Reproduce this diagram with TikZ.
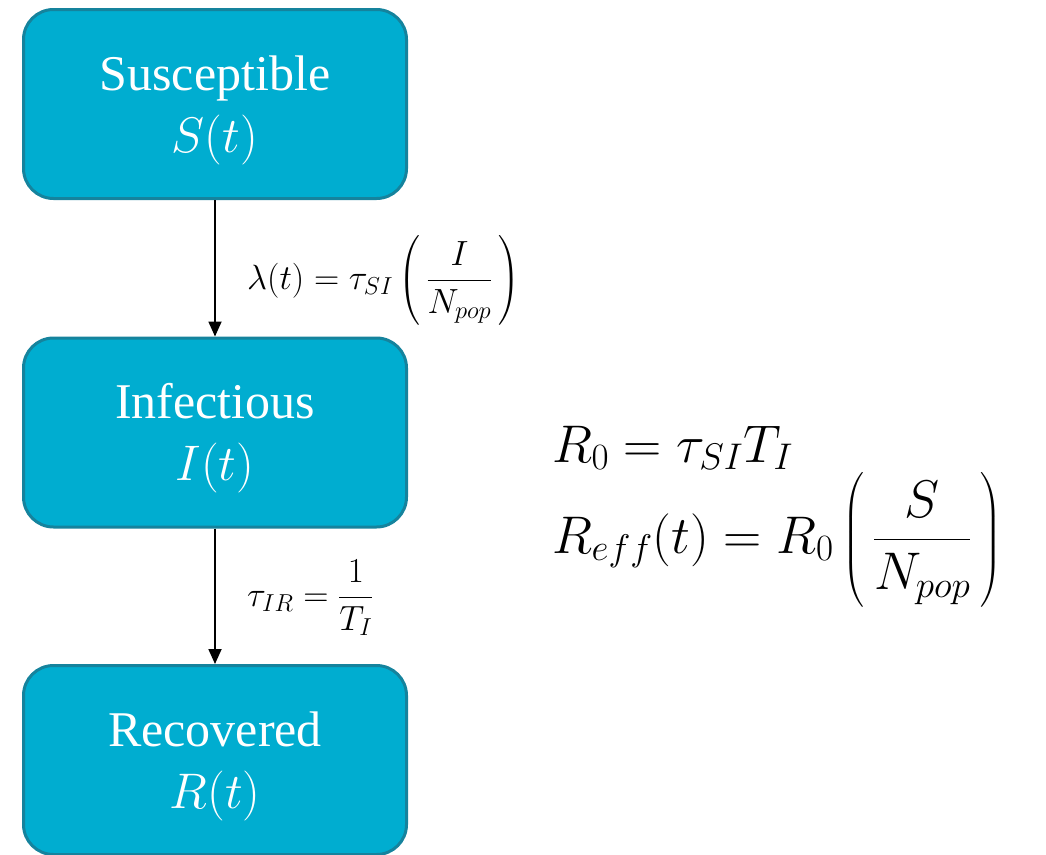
\documentclass[tikz,border=0pt]{standalone}
\usepackage{fix-cm}
\usepackage{amsmath}
\usepackage[no-math]{fontspec}
\setmainfont{Liberation Serif}
\usetikzlibrary{arrows.meta}
\definecolor{boxfill}{HTML}{00ADD0}
\definecolor{boxline}{HTML}{15839D}
\begin{document}
\begin{tikzpicture}[x=1pt,y=-1pt,
  compartment/.style={draw=boxline, line width=3pt, fill=boxfill, rounded corners=30pt,
    minimum width=383pt, minimum height=189pt, inner sep=0pt},
  boxtext/.style={text=white, align=center, font=\fontsize{50}{62}\selectfont, inner sep=0pt},
  flow/.style={line width=1.8pt, -{Triangle[width=13pt,length=15pt]}},
  rate/.style={anchor=base west, font=\fontsize{35}{40}\selectfont, inner sep=0pt},
  eq/.style={anchor=base west, font=\fontsize{53}{60}\selectfont, inner sep=0pt}]
\useasboundingbox (0,0) rectangle (1046,854);
\node[compartment] (S) at (215,104) {};
\node[compartment] (I) at (215,432.5) {};
\node[compartment] (R) at (215,760) {};
\node[boxtext] (St) at ([yshift=-6pt]S.center) {Susceptible\\$S(t)$};
\node[boxtext] (It) at ([yshift=-6pt]I.center) {Infectious\\$I(t)$};
\node[boxtext] (Rt) at ([yshift=-6pt]R.center) {Recovered\\$R(t)$};
\draw[flow] (S) -- (I);
\draw[flow] (I) -- (R);
\node[rate] (lam) at (247,289) {$\lambda(t) = \tau_{SI}\left(\,\dfrac{I}{N_{pop}}\,\right)$};
\node[rate] (tir) at (247,606) {$\tau_{IR} = \dfrac{1}{T_I}$};
\node[eq] (r0) at (552,462) {$R_0 = \tau_{SI}T_I$};
\node[eq] (reff) at (552,553) {$R_{eff}(t) = R_0\left(\,\dfrac{S}{N_{pop}}\,\right)$};
\end{tikzpicture}
\end{document}
